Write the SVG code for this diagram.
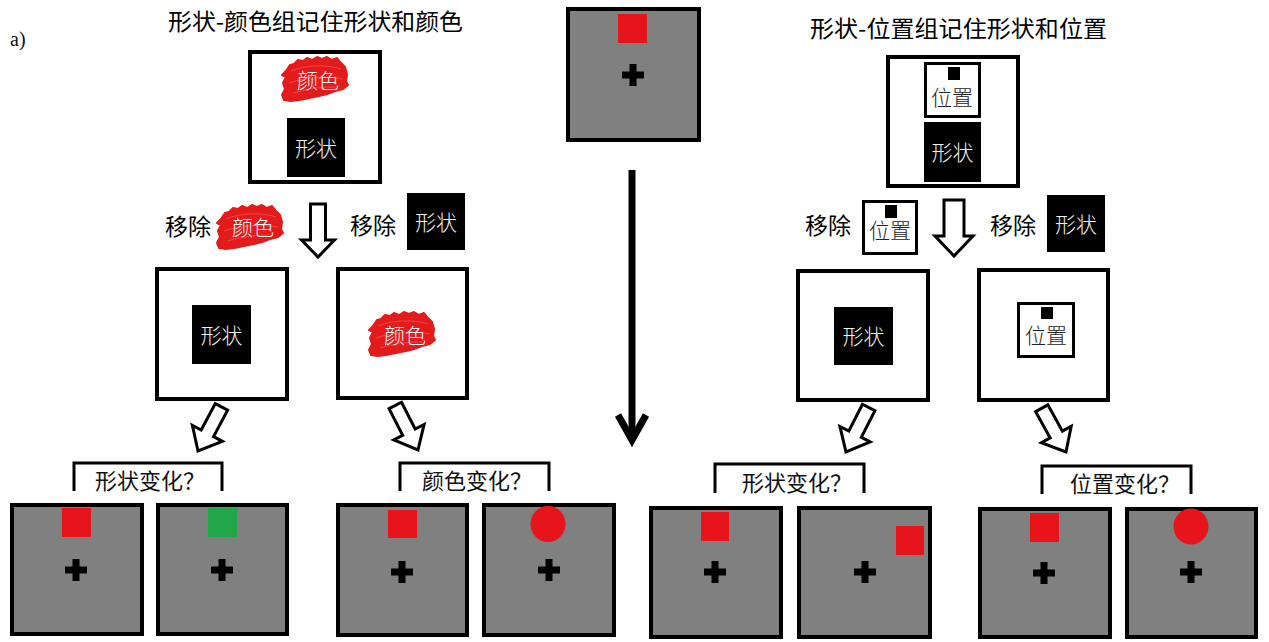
<svg xmlns="http://www.w3.org/2000/svg" xmlns:xlink="http://www.w3.org/1999/xlink" width="1269" height="642" viewBox="0 0 1269 642">
<style>
.cjk{font-family:'Noto Sans CJK SC','Noto Sans CJK TC',sans-serif;}
.title{font-size:23px;fill:#000;}
.lbl{font-size:23px;fill:#000;}
.q{font-size:22px;fill:#111;}
.inv{font-size:21px;fill:#f2f2f2;text-anchor:middle;font-weight:300;}
.dark{font-size:21px;fill:#222;text-anchor:middle;font-weight:300;}
.frame{fill:#fff;stroke:#000;stroke-width:4;}
.small{fill:#fff;stroke:#000;stroke-width:3;}
.panel{fill:#808080;stroke:#000;stroke-width:4;}
.blk{fill:#000;}
.red{fill:#e8141c;}
.grn{fill:#22a64a;}
.brk{fill:none;stroke:#000;stroke-width:3;}
.hollow{fill:#fff;stroke:#000;stroke-width:3;stroke-linejoin:miter;}
</style>
<defs>
<path id="cross" d="M-11,0 H11 M0,-11 V11" stroke="#000" stroke-width="7" fill="none"/>
<g id="blob">
<path d="M-29,-8 L-25,-14 L-21,-15 L-17,-19 L-12,-18 L-8,-21 L-3,-19 L2,-22 L7,-20 L12,-22 L17,-19 L22,-21 L26,-16 L30,-12 L32,-5 L31,2 L33,6 L28,10 L20,12 L12,15 L4,17 L-6,19 L-16,21 L-24,22 L-31,21 L-33,16 L-30,10 L-32,4 L-29,-2 L-33,-4 Z" fill="#e31b1b" stroke="#e31b1b" stroke-width="2" stroke-linejoin="round"/>
<path d="M-24,-8 C-10,-14 10,-15 26,-10 M-26,4 C-8,-2 12,-3 28,0 M-22,14 C-6,9 8,8 20,8" fill="none" stroke="#ff7070" stroke-width="1" opacity="0.5"/>
</g>
<polygon id="arrowV" points="-7,-50 7,-50 7,-20 17,-20 0,0 -17,-20 -7,-20"/>
</defs>

<text x="10" y="46" font-family="'Liberation Serif',serif" font-size="20" fill="#111">a)</text>

<g id="title-left"><text class="cjk title" x="168" y="29.5" textLength="295" lengthAdjust="spacingAndGlyphs">形状-颜色组记住形状和颜色</text></g>
<g id="title-right"><text class="cjk title" x="810" y="36.5" textLength="297" lengthAdjust="spacingAndGlyphs">形状-位置组记住形状和位置</text></g>

<g id="shape-color-memory">
<rect class="frame" x="250" y="52" width="130" height="130"/>
<use xlink:href="#blob" transform="translate(315,79)"/>
<text class="cjk inv" x="318" y="88">颜色</text>
<rect class="blk" x="287" y="118" width="58" height="59"/>
<text class="cjk inv" x="316" y="156">形状</text>
</g>

<g id="remove-color">
<text class="cjk lbl" x="165" y="235">移除</text>
<use xlink:href="#blob" transform="translate(250,227)"/>
<text class="cjk inv" x="253" y="235">颜色</text>
</g>

<g id="remove-shape-left">
<text class="cjk lbl" x="350" y="233.5">移除</text>
<rect class="blk" x="407" y="193" width="58" height="57"/>
<text class="cjk inv" x="436" y="229.5">形状</text>
</g>

<g id="center-stim">
<rect class="panel" x="568" y="9" width="131" height="131"/>
<rect class="red" x="618" y="14" width="29" height="29"/>
<use xlink:href="#cross" x="633" y="75"/>
</g>

<g id="shape-pos-memory">
<rect class="frame" x="888" y="57" width="130" height="129"/>
<rect class="small" x="925.5" y="63.5" width="54" height="53"/>
<rect class="blk" x="948" y="67" width="12" height="13"/>
<text class="cjk dark" x="952" y="105">位置</text>
<rect class="blk" x="924" y="122" width="57" height="60"/>
<text class="cjk inv" x="952.5" y="160">形状</text>
</g>

<g id="remove-pos">
<text class="cjk lbl" x="805" y="233.5">移除</text>
<rect class="small" x="863.5" y="201.5" width="53" height="52"/>
<rect class="blk" x="885" y="205" width="12" height="13"/>
<text class="cjk dark" x="890" y="238">位置</text>
</g>

<g id="remove-shape-right">
<text class="cjk lbl" x="990" y="233.5">移除</text>
<rect class="blk" x="1047" y="195" width="58" height="57"/>
<text class="cjk inv" x="1076" y="231.5">形状</text>
</g>

<g id="keep-shape-left">
<rect class="frame" x="157" y="269" width="130" height="130"/>
<rect class="blk" x="192" y="305" width="59" height="59"/>
<text class="cjk inv" x="221.5" y="342.5">形状</text>
</g>

<g id="keep-color">
<rect class="frame" x="338" y="269" width="129" height="129"/>
<use xlink:href="#blob" transform="translate(402,334)"/>
<text class="cjk inv" x="405" y="343">颜色</text>
</g>

<g id="keep-shape-right">
<rect class="frame" x="798" y="271" width="130" height="129"/>
<rect class="blk" x="834" y="307" width="59" height="58"/>
<text class="cjk inv" x="863.5" y="344">形状</text>
</g>

<g id="keep-pos">
<rect class="frame" x="979" y="270" width="129" height="130"/>
<rect class="small" x="1018.5" y="303.5" width="55" height="53"/>
<rect class="blk" x="1041" y="307" width="12" height="12"/>
<text class="cjk dark" x="1046" y="343">位置</text>
</g>

<g id="q-shape-left">
<polyline class="brk" points="74,491 74,463 222,463 222,491"/>
<text class="cjk q" x="95" y="489">形状变化？</text>
</g>
<g id="q-color">
<polyline class="brk" points="400,491 400,463 549,463 549,491"/>
<text class="cjk q" x="422" y="489">颜色变化？</text>
</g>
<g id="q-shape-right">
<polyline class="brk" points="715,493 715,464 864,464 864,493"/>
<text class="cjk q" x="742" y="491">形状变化？</text>
</g>
<g id="q-pos">
<polyline class="brk" points="1042,494 1042,466 1191,466 1191,494"/>
<text class="cjk q" x="1070" y="492">位置变化？</text>
</g>

<g id="test-1a">
<rect class="panel" x="12" y="505" width="130" height="129"/>
<rect class="red" x="62" y="508" width="29" height="29"/>
<use xlink:href="#cross" x="76" y="570"/>
</g>
<g id="test-1b">
<rect class="panel" x="158" y="505" width="129" height="129"/>
<rect class="grn" x="208" y="508" width="29" height="29"/>
<use xlink:href="#cross" x="222" y="570"/>
</g>
<g id="test-2a">
<rect class="panel" x="338" y="505" width="129" height="130"/>
<rect class="red" x="388" y="510" width="29" height="28"/>
<use xlink:href="#cross" x="402" y="572"/>
</g>
<g id="test-2b">
<rect class="panel" x="484" y="505" width="130" height="130"/>
<ellipse class="red" cx="548" cy="524" rx="17.5" ry="18"/>
<use xlink:href="#cross" x="549" y="570"/>
</g>
<g id="test-3a">
<rect class="panel" x="651" y="508" width="130" height="129"/>
<rect class="red" x="701" y="512" width="28" height="29"/>
<use xlink:href="#cross" x="715" y="572"/>
</g>
<g id="test-3b">
<rect class="panel" x="799" y="508" width="131" height="129"/>
<rect class="red" x="896" y="526" width="28" height="29"/>
<use xlink:href="#cross" x="865" y="572"/>
</g>
<g id="test-4a">
<rect class="panel" x="980" y="509" width="130" height="128"/>
<rect class="red" x="1030" y="513" width="29" height="29"/>
<use xlink:href="#cross" x="1044" y="573"/>
</g>
<g id="test-4b">
<rect class="panel" x="1127" y="509" width="129" height="128"/>
<ellipse class="red" cx="1191" cy="526.5" rx="17.5" ry="18"/>
<use xlink:href="#cross" x="1191" y="572"/>
</g>

<g id="connectors">
<polygon class="hollow" points="310.5,204 325.5,204 325.5,240 334.5,240 318,257 301.5,240 310.5,240"/>
<polygon class="hollow" points="944,200 964,200 964,236 973,236 954,256 935,236 944,236"/>
<use xlink:href="#arrowV" class="hollow" transform="translate(198,451) rotate(28)"/>
<use xlink:href="#arrowV" class="hollow" transform="translate(418,450) rotate(-27)"/>
<use xlink:href="#arrowV" class="hollow" transform="translate(846,452) rotate(27)"/>
<use xlink:href="#arrowV" class="hollow" transform="translate(1066,452) rotate(-29)"/>
<line x1="632" y1="170" x2="632" y2="440" stroke="#000" stroke-width="7"/>
<polyline points="618,415 632,440 646,415" fill="none" stroke="#000" stroke-width="7" stroke-linejoin="miter"/>
</g>
</svg>
